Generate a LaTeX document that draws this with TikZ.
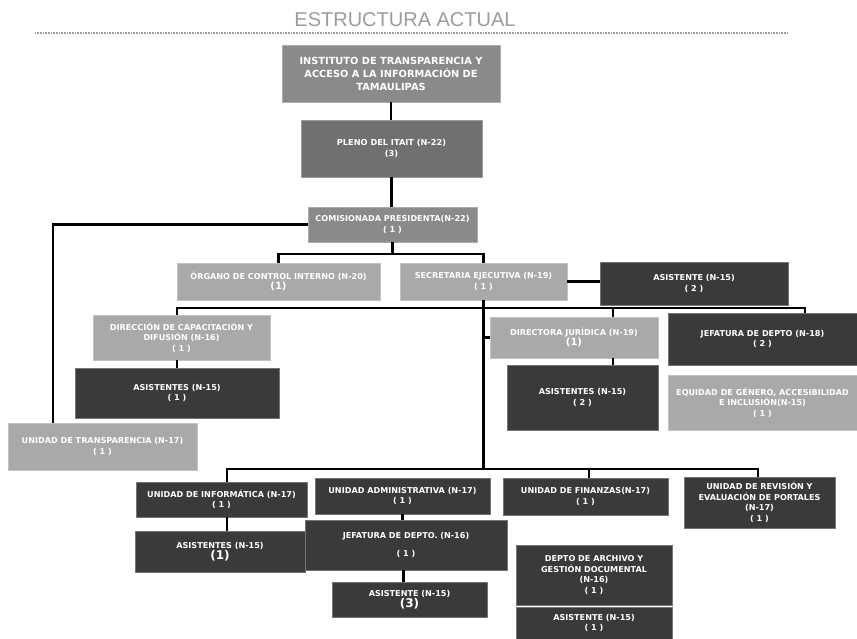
\documentclass[tikz,border=0pt]{standalone}
\usepackage{fontspec}
\setmainfont{DejaVu Sans}
\newfontfamily\titlefont{Liberation Sans}
\definecolor{cmed}{HTML}{8A8A8A}
\definecolor{cpleno}{HTML}{707070}
\definecolor{clight}{HTML}{A9A9A9}
\definecolor{cdark}{HTML}{3A3A3A}
\definecolor{ctitle}{HTML}{9C9C9C}
\tikzset{
  box/.style={inner sep=0pt, text=white, align=center, draw=#1!70!white, line width=0.6pt, fill=#1,
    font=\fontsize{8.1}{10.5}\selectfont\bfseries},
  wire/.style={line width=2.2pt, black},
}
\begin{document}
\begin{tikzpicture}[x=1pt,y=-1pt]
\useasboundingbox[fill=white] (0,0) rectangle (857,639);
% title
\node[font=\titlefont\fontsize{20}{22}\selectfont, text=ctitle, anchor=base] (title) at (405,27) {ESTRUCTURA ACTUAL};
\coordinate (tl) at (35,33);
\coordinate (tr) at (788,33);
\draw[ctitle, line width=1.2pt, dash pattern=on 1pt off 0.6pt] (tl) -- (tr);
% boxes
\node[box=cmed, minimum width=218, minimum height=57, font=\fontsize{9.8}{13}\selectfont\bfseries] (inst) at (391,73.5) {INSTITUTO DE TRANSPARENCIA Y\\ACCESO A LA INFORMACIÓN DE\\TAMAULIPAS};
\node[box=cpleno, minimum width=181, minimum height=57, font=\fontsize{8.2}{10.5}\selectfont\bfseries] (pleno) at (391.5,148.5) {PLENO DEL ITAIT (N-22)\\(3)};
\node[box=cmed, minimum width=169, minimum height=35] (comi) at (392.5,224.5) {COMISIONADA PRESIDENTA(N-22)\\( 1 )};
\node[box=clight, minimum width=203, minimum height=37] (organo) at (278.5,281.5) {ÓRGANO DE CONTROL INTERNO (N-20)\\{\fontsize{10}{11}\selectfont(1)}};
\node[box=clight, minimum width=167, minimum height=37] (secre) at (483.5,281.5) {SECRETARIA EJECUTIVA (N-19)\\( 1 )};
\node[box=cdark, minimum width=188, minimum height=43] (asis2) at (694,283.5) {ASISTENTE (N-15)\\( 2 )};
\node[box=clight, minimum width=177, minimum height=45] (dircap) at (181.5,337.5) {DIRECCIÓN DE CAPACITACIÓN Y\\DIFUSIÓN (N-16)\\( 1 )};
\node[box=cdark, minimum width=204, minimum height=50] (asisL) at (177,393) {ASISTENTES (N-15)\\( 1 )};
\node[box=clight, minimum width=168, minimum height=41] (dirjur) at (574,337.5) {DIRECTORA JURÍDICA (N-19)\\{\fontsize{10}{11}\selectfont(1)}};
\node[box=cdark, minimum width=151, minimum height=65] (asisJ) at (582.5,397.5) {ASISTENTES (N-15)\\( 2 )};
\node[box=cdark, minimum width=189, minimum height=52] (jefD) at (762.5,339) {JEFATURA DE DEPTO (N-18)\\( 2 )};
\node[box=clight, minimum width=189, minimum height=55] (equidad) at (762.5,402.5) {EQUIDAD DE GÉNERO, ACCESIBILIDAD\\E INCLUSIÓN(N-15)\\( 1 )};
\node[box=clight, minimum width=189, minimum height=47] (unitrans) at (102.5,446.5) {UNIDAD DE TRANSPARENCIA (N-17)\\( 1 )};
\node[box=cdark, minimum width=171, minimum height=35] (uinfo) at (221.5,499.5) {UNIDAD DE INFORMÁTICA (N-17)\\( 1 )};
\node[box=cdark, minimum width=170, minimum height=41] (asisI) at (220,551.5) {ASISTENTES (N-15)\\{\fontsize{12}{13}\selectfont(1)}};
\node[box=cdark, minimum width=175, minimum height=36] (uadmin) at (402.5,496) {UNIDAD ADMINISTRATIVA (N-17)\\( 1 )};
\node[box=cdark, minimum width=202, minimum height=50] (jefD2) at (406,545) {JEFATURA DE DEPTO. (N-16)\\[7pt]( 1 )};
\node[box=cdark, minimum width=155, minimum height=35] (asis3) at (409.5,599.5) {ASISTENTE (N-15)\\{\fontsize{12}{13}\selectfont(3)}};
\node[box=cdark, minimum width=165, minimum height=37] (ufin) at (585.5,496.5) {UNIDAD DE FINANZAS(N-17)\\( 1 )};
\node[box=cdark, minimum width=151, minimum height=51] (urev) at (759.5,502.5) {UNIDAD DE REVISIÓN Y\\EVALUACIÓN DE PORTALES\\(N-17)\\( 1 )};
\node[box=cdark, minimum width=156, minimum height=60] (archivo) at (594,575) {DEPTO DE ARCHIVO Y\\GESTIÓN DOCUMENTAL\\(N-16)\\( 1 )};
\node[box=cdark, minimum width=156, minimum height=32] (asisA) at (594,623) {ASISTENTE (N-15)\\( 1 )};
% connectors
\draw[wire] (inst.south) -- (inst.south |- pleno.north);
\draw[wire] (pleno.south) -- (pleno.south |- comi.north);
\draw[wire] (comi.west) -| ([xshift=-49.5]unitrans.north);
\draw[wire] (comi.south) -- ++(0,12);
\draw[wire] (organo.north) -- ++(0,-9) -| (secre.north);
\draw[wire] (secre.east) -- (secre.east -| asis2.west);
\draw[wire] ([xshift=-4.5]dircap.north) -- ++(0,-7) -| ([xshift=42.5]jefD.north);
\draw[wire] ([xshift=39]dirjur.north) -- ++(0,-9);
\draw[wire] (secre.south) -- ++(0,169);
\draw[wire] (dirjur.west) -- ++(-7,0);
\draw[wire] ([xshift=-4.5]dircap.south) -- (asisL.north);
\draw[wire] ([xshift=39]dirjur.south) -- ([xshift=30.5]asisJ.north);
\draw[wire] ([xshift=5.5]uinfo.north) -- ++(0,-13) -| ([xshift=-1.5]urev.north);
\draw[wire] ([xshift=3.5]ufin.north) -- ++(0,-9.5);
\draw[wire] ([xshift=5.5]uinfo.south) -- ([xshift=7]asisI.north);
\draw[wire] (uadmin.south) -- (uadmin.south |- jefD2.north);
\draw[wire] ([xshift=-2.5]jefD2.south) -- ([xshift=-2.5]jefD2.south |- asis3.north);
\end{tikzpicture}
\end{document}
